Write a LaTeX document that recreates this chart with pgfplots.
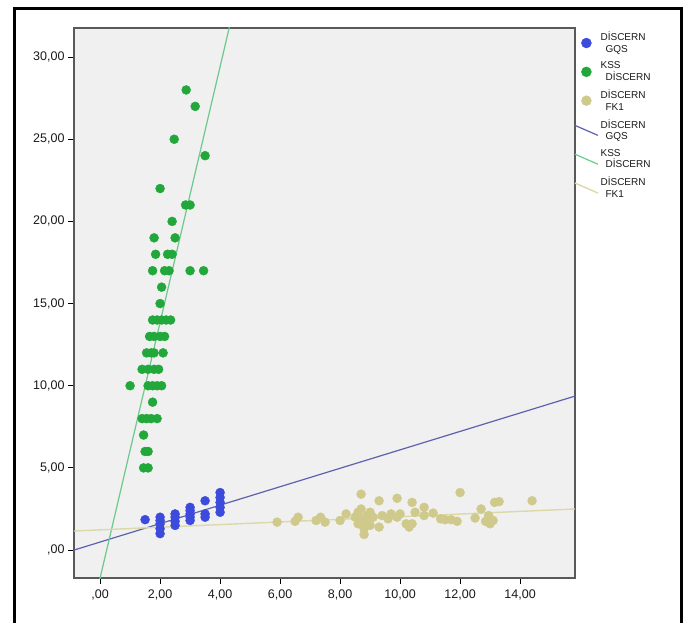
\documentclass[border=0pt]{standalone}
\usepackage{pgfplots}
\pgfplotsset{compat=1.18}
\usepackage{fontspec}
\setmainfont{Liberation Sans}

\definecolor{gqsdot}{HTML}{3C4BDC}
\definecolor{kssdot}{HTML}{22A83A}
\definecolor{fkdot}{HTML}{CFCA8C}
\definecolor{gqsline}{HTML}{5C62AE}
\definecolor{kssline}{HTML}{6CC88C}
\definecolor{fkline}{HTML}{DCD8A8}
\definecolor{plotbg}{HTML}{F0F0F0}

\pgfplotsset{
  dotlegend/.style={legend image code/.code={\draw[##1, mark size=5pt] plot[only marks] coordinates {(11.5pt,0pt)};}},
  linelegend/.style={legend image code/.code={\draw[##1] (0pt,5pt) -- (23pt,-5pt);}},
}

\begin{document}
\begin{tikzpicture}[x=1pt,y=1pt]
\useasboundingbox (0,0) rectangle (683,622);
\draw[line width=3pt] (14,-5) -- (14,613) -- (681.5,613) -- (681.5,-5);
\begin{axis}[
  at={(74pt,44pt)}, anchor=south west,
  scale only axis, width=501pt, height=550pt,
  xmin=-0.87, xmax=15.83, ymin=-1.7, ymax=31.77,
  axis background/.style={fill=plotbg},
  axis line style={draw=black!65, line width=1.2pt},
  tick pos=left, tick align=outside,
  major tick length=6pt,
  tick style={black, line width=1pt},
  xtick={0,2,4,6,8,10,12,14},
  xticklabels={{,00},{2,00},{4,00},{6,00},{8,00},{10,00},{12,00},{14,00}},
  ytick={0,5,10,15,20,25,30},
  yticklabels={{,00},{5,00},{10,00},{15,00},{20,00},{25,00},{30,00}},
  xticklabel style={yshift=-2pt},
  ticklabel style={font=\fontsize{12.5}{13}\selectfont, text=black!90},
  legend style={at={(1,1)}, anchor=north west, xshift=-1pt, yshift=-2pt,
    draw=none, fill=none, inner sep=0pt, row sep=4pt,
    font=\fontsize{10}{11.5}\selectfont, text=black!90,
    cells={anchor=west, align=left}},
  legend cell align=left,
]
\addplot[dotlegend, only marks, mark=*, mark size=4.5pt, draw=gqsdot, fill=gqsdot] coordinates {
(1.5,1.85)
(2,1.0) (2,1.3) (2,1.6) (2,1.8) (2,2.0)
(2.5,1.5) (2.5,1.75) (2.5,2.0) (2.5,2.2)
(3,1.8) (3,2.0) (3,2.2) (3,2.4) (3,2.6)
(3.5,2.0) (3.5,2.2) (3.5,3.0)
(4,2.3) (4,2.6) (4,2.9) (4,3.2) (4,3.5)
};
\addlegendentry{DİSCERN\\\hspace*{5pt}GQS}
\addplot[dotlegend, only marks, mark=*, mark size=4.5pt, draw=kssdot, fill=kssdot] coordinates {
(2.87,28) (3.17,27) (2.47,25) (3.5,24) (2,22)
(2.85,21) (3.0,21) (2.4,20) (1.8,19) (2.5,19)
(1.85,18) (2.25,18) (2.4,18)
(1.75,17) (2.15,17) (2.3,17) (3,17) (3.45,17)
(2.05,16) (2,15)
(1.75,14) (1.9,14) (2.05,14) (2.2,14) (2.35,14)
(1.65,13) (1.8,13) (2.0,13) (2.15,13)
(1.55,12) (1.7,12) (1.8,12) (2.1,12)
(1.4,11) (1.6,11) (1.8,11) (1.95,11)
(1,10) (1.6,10) (1.75,10) (1.9,10) (2.05,10)
(1.75,9)
(1.4,8) (1.55,8) (1.7,8) (1.9,8)
(1.45,7) (1.5,6) (1.6,6) (1.45,5) (1.6,5)
};
\addlegendentry{KSS\\\hspace*{5pt}DİSCERN}
\addplot[dotlegend, only marks, mark=*, mark size=4.5pt, draw=fkdot, fill=fkdot] coordinates {
(5.9,1.7) (6.5,1.75) (6.6,2.0) (7.2,1.8) (7.35,2.0) (7.5,1.7) (8.0,1.8) (8.2,2.2)
(8.7,3.4) (8.5,2.0) (8.6,2.3) (8.6,1.6) (8.7,2.5) (8.75,1.9) (8.8,1.3) (8.8,0.95)
(8.9,2.1) (8.9,1.7) (9.0,2.3) (9.0,1.5) (9.1,2.0) (9.3,3.0) (9.3,1.4) (9.4,2.1)
(9.6,1.9) (9.7,2.2) (9.9,3.15) (9.9,2.0) (10.0,2.2) (10.2,1.6) (10.3,1.4) (10.4,2.9)
(10.4,1.6) (10.5,2.3) (10.8,2.6) (10.8,2.1) (11.1,2.25) (11.35,1.9) (11.5,1.85)
(11.7,1.85) (11.9,1.75) (12.0,3.5) (12.5,1.95) (12.7,2.5) (12.85,1.75) (12.95,2.1)
(13.0,1.6) (13.1,1.8) (13.15,2.9) (13.3,2.95) (14.4,3.0)
};
\addlegendentry{DİSCERN\\\hspace*{5pt}FK1}
\addplot[linelegend, gqsline, line width=1.2pt] coordinates {(-0.87,0.0) (15.83,9.37)};
\addlegendentry{DİSCERN\\\hspace*{5pt}GQS}
\addplot[linelegend, kssline, line width=1.2pt] coordinates {(-0.1,-2.48) (4.4,32.53)};
\addlegendentry{KSS\\\hspace*{5pt}DİSCERN}
\addplot[linelegend, fkline, line width=1.4pt] coordinates {(-0.87,1.16) (15.83,2.5)};
\addlegendentry{DİSCERN\\\hspace*{5pt}FK1}
\end{axis}
\end{tikzpicture}
\end{document}
